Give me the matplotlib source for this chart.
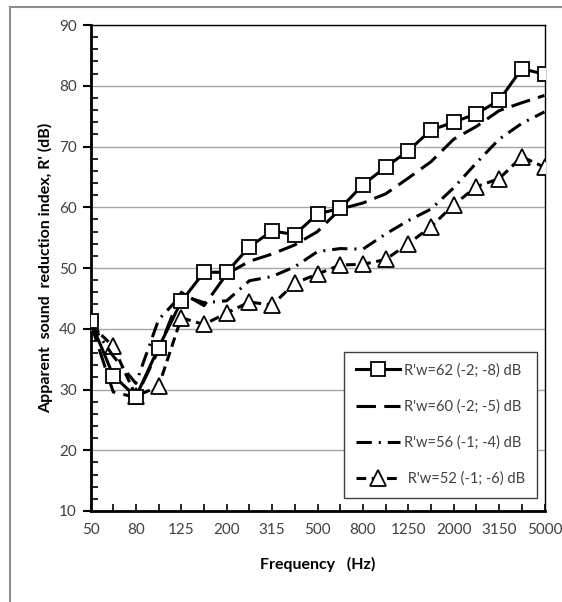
#!/usr/bin/env python3

import matplotlib
matplotlib.use('Agg')
import matplotlib.pyplot as plt
from matplotlib.lines import Line2D
from matplotlib.ticker import MultipleLocator

# one-third octave bands
freqs = ['50', '63', '80', '100', '125', '160', '200', '250', '315', '400', '500',
         '630', '800', '1000', '1250', '1600', '2000', '2500', '3150', '4000', '5000']

r62 = [41.3, 32.3, 28.8, 36.9, 44.5, 49.3, 49.3, 53.5, 56.1, 55.5, 58.9,
       59.8, 63.7, 66.6, 69.3, 72.7, 74.0, 75.4, 77.6, 82.8, 81.9]
r60 = [41.0, 29.6, 28.7, 36.5, 46.0, 43.8, 49.0, 51.1, 52.3, 53.8, 56.0,
       59.7, 60.7, 62.2, 64.8, 67.5, 71.2, 73.3, 75.9, 77.2, 78.4]
r56 = [41.0, 35.5, 31.0, 41.5, 45.5, 44.3, 44.6, 47.9, 48.6, 50.2, 52.7,
       53.2, 53.1, 55.6, 57.8, 59.7, 63.2, 67.3, 71.2, 73.8, 75.7]
r52 = [40.7, 37.1, 28.9, 30.5, 41.8, 40.7, 42.6, 44.4, 43.9, 47.5, 49.0,
       50.5, 50.6, 51.4, 54.0, 56.8, 60.4, 63.4, 64.7, 68.3, 66.6]

labels = ["R'w=62 (-2; -8) dB", "R'w=60 (-2; -5) dB",
          "R'w=56 (-1; -4) dB", " R'w=52 (-1; -6) dB"]

TXT = '#404040'


def main():
    plt.rcParams['font.family'] = ['Lato', 'DejaVu Sans']
    plt.rcParams['lines.scale_dashes'] = False

    fig = plt.figure(figsize=(5.62, 6.02), dpi=100)
    ax = fig.add_axes([90.5 / 562, 91 / 602, 454 / 562, 486 / 602])

    x = list(range(len(freqs)))
    lw = 2.2

    ax.plot(x, r52, color='black', lw=lw, dashes=(7, 4), marker='^', ms=11,
            mfc='white', mec='black', mew=1.3, label=labels[3], zorder=3)
    ax.plot(x, r56, color='black', lw=lw, dashes=(11, 5, 1.5, 5),
            label=labels[2], zorder=4)
    ax.plot(x, r60, color='black', lw=lw, dashes=(14, 6),
            label=labels[1], zorder=5)
    ax.plot(x, r62, color='black', lw=lw, ls='-', marker='s', ms=10.5,
            mfc='white', mec='black', mew=1.3, label=labels[0], zorder=6)

    ax.set_xlim(0, 20)
    ax.set_ylim(10, 90)

    # y axis: major outside, minor inside
    ax.yaxis.set_major_locator(MultipleLocator(10))
    ax.yaxis.set_minor_locator(MultipleLocator(2))
    ax.tick_params(axis='y', which='major', direction='out', length=6,
                   width=1.5, labelsize=11, labelcolor=TXT, pad=4)
    ax.tick_params(axis='y', which='minor', direction='in', length=5, width=1.2)

    # x axis: a tick per band, labels every other band
    ax.set_xticks(x)
    ax.set_xticklabels([f if i % 2 == 0 else '' for i, f in enumerate(freqs)])
    ax.tick_params(axis='x', which='major', direction='in', length=5, width=1.2,
                   labelsize=11, labelcolor=TXT, pad=9)

    ax.grid(axis='y', which='major', color='#a6a6a6', lw=1)
    ax.set_axisbelow(True)

    for side in ('left', 'bottom'):
        ax.spines[side].set_linewidth(2)
    for side in ('top', 'right'):
        ax.spines[side].set_linewidth(1)

    ax.set_ylabel("Apparent  sound  reduction index, R' (dB)", fontsize=11.5,
                  fontweight='bold', color='black', labelpad=4)
    ax.set_xlabel('Frequency   (Hz)', fontsize=11.5, fontweight='bold',
                  color='black', labelpad=14)

    h, l = ax.get_legend_handles_labels()
    leg = ax.legend(h[::-1], l[::-1], loc='lower right',
                    bbox_to_anchor=(0.983, 0.027), borderaxespad=0,
                    fancybox=False, edgecolor=TXT, framealpha=1,
                    fontsize=10.5, labelcolor=TXT, handlelength=3.0,
                    handletextpad=0.3, labelspacing=1.5, borderpad=0.8,
                    numpoints=1)
    leg.get_frame().set_linewidth(1)

    # chart frame (only left and top edges show)
    fig.add_artist(Line2D([10 / 562, 10 / 562], [0, 1 - 7 / 602],
                          color='#8c8c8c', lw=1.5))
    fig.add_artist(Line2D([10 / 562, 1], [1 - 7 / 602, 1 - 7 / 602],
                          color='#8c8c8c', lw=1.5))

    fig.savefig('out.png', dpi=100)


if __name__ == '__main__':
    main()
